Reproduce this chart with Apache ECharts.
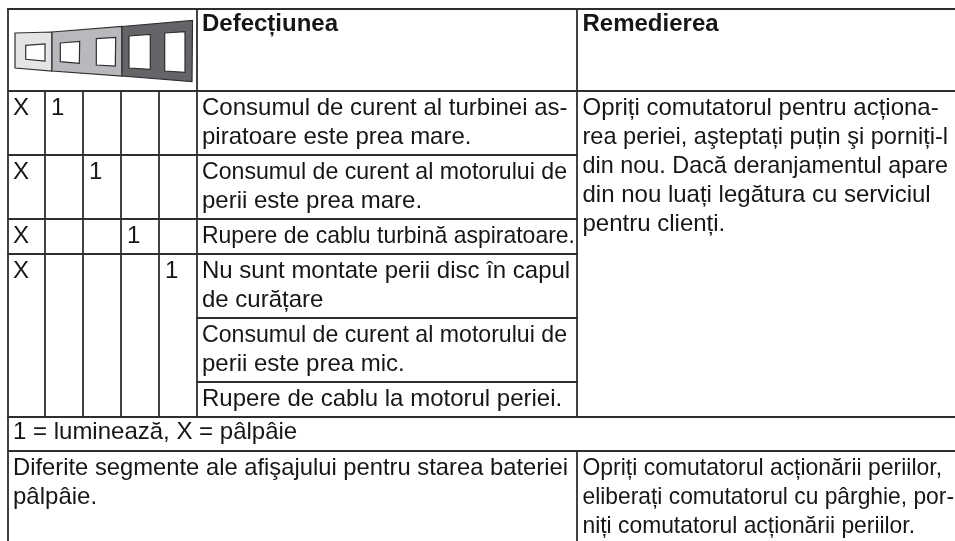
<!DOCTYPE html>
<html><head><meta charset="utf-8">
<style>html,body{margin:0;padding:0;background:#fff}#c{width:955px;height:541px}</style>
<script src="https://cdn.jsdelivr.net/npm/echarts@6/dist/echarts.min.js"></script>
</head><body><div id="c"></div>
<script>
// ---- content ----
const headers = ["Defecțiunea", "Remedierea"];
const flashMarks = ["X", "X", "X", "X"];
const litColumn = [1, 2, 3, 4];
const litMark = "1";
const faults = [
  ["Consumul de curent al turbinei as-", "piratoare este prea mare."],
  ["Consumul de curent al motorului de", "perii este prea mare."],
  ["Rupere de cablu turbină aspiratoare."],
  ["Nu sunt montate perii disc în capul", "de curățare"],
  ["Consumul de curent al motorului de", "perii este prea mic."],
  ["Rupere de cablu la motorul periei."]
];
const remedy = ["Opriți comutatorul pentru acționa-", "rea periei, aşteptați puțin şi porniți-l", "din nou. Dacă deranjamentul apare", "din nou luați legătura cu serviciul", "pentru clienți."];
const legendNote = "1 = luminează, X = pâlpâie";
const batteryFault = ["Diferite segmente ale afişajului pentru starea bateriei", "pâlpâie."];
const batteryRemedy = ["Opriți comutatorul acționării periilor,", "eliberați comutatorul cu pârghie, por-", "niți comutatorul acționării periilor."];

// ---- layout ----
const W = 955, H = 541;
const colX = [8, 45, 83, 121, 159, 197, 577, 955];
const rowY = [9, 91, 155, 219, 254, 318, 382, 417, 451, 541];
const FONT = '"Liberation Sans", Arial, sans-serif';
const SIZE = 24, PITCH = 29, ASCENT = 17;
const INK = '#161616', RULE = '#2e2e2e';
// right edge (px) of lines that the original sets tighter than the natural width
const fitRight = {
  "Consumul de curent al motorului de": 567,
  "Rupere de cablu turbină aspiratoare.": 575,
  "rea periei, aşteptați puțin şi porniți-l": 948,
  "din nou. Dacă deranjamentul apare": 948,
  "Diferite segmente ale afişajului pentru starea bateriei": 568,
  "Opriți comutatorul acționării periilor,": 942,
  "eliberați comutatorul cu pârghie, por-": 954,
  "niți comutatorul acționării periilor.": 915
};

const ruleData = [
  [colX[0], rowY[0], W, rowY[0]], [colX[0], rowY[1], W, rowY[1]],
  [colX[0], rowY[2], colX[5], rowY[2]], [colX[0], rowY[3], colX[5], rowY[3]],
  [colX[0], rowY[4], colX[5], rowY[4]], [colX[5], rowY[2], colX[6], rowY[2]],
  [colX[5], rowY[3], colX[6], rowY[3]], [colX[5], rowY[4], colX[6], rowY[4]],
  [colX[5], rowY[5], colX[6], rowY[5]], [colX[5], rowY[6], colX[6], rowY[6]],
  [colX[0], rowY[7], W, rowY[7]], [colX[0], rowY[8], W, rowY[8]],
  [colX[0], rowY[0], colX[0], H],
  [colX[1], rowY[1], colX[1], rowY[7]], [colX[2], rowY[1], colX[2], rowY[7]],
  [colX[3], rowY[1], colX[3], rowY[7]], [colX[4], rowY[1], colX[4], rowY[7]],
  [colX[5], rowY[0], colX[5], rowY[7]], [colX[6], rowY[0], colX[6], rowY[7]],
  [colX[6], rowY[8], colX[6], H]
];

const iconShapes = [
  {c:'#e3e4e5', p:[[15,33],[52,32],[52,71],[15,68]]},
  {c:'#b8b9bc', p:[[52,32],[122,26.5],[122,76],[52,71]]},
  {c:'#646568', p:[[122,26.5],[192.5,20.5],[192,81.5],[122,76]]},
  {c:'#ffffff', p:[[25.7,45.3],[45,44],[45,61],[25.7,59.3]]},
  {c:'#ffffff', p:[[60.3,43],[79.7,41.3],[79.3,63.3],[60.3,61.7]]},
  {c:'#ffffff', p:[[96.3,38.7],[115.7,37.3],[115.3,66],[96.3,65]]},
  {c:'#ffffff', p:[[129,36],[150.3,34.3],[150.3,69.3],[129,68]]},
  {c:'#ffffff', p:[[164.7,33],[185,31.7],[185,72.3],[164.7,71]]}
];

// text lines: [x, baseline y, string, bold]
const textData = [];
const put = (x, base, lines, bold) => lines.forEach((s, i) => textData.push([x, base + i * PITCH, s, bold ? 1 : 0]));
put(colX[5] + 5, rowY[0] + 20, [headers[0]], true);
put(colX[6] + 5.5, rowY[0] + 20, [headers[1]], true);
flashMarks.forEach((m, i) => put(colX[0] + 5, rowY[i + 1] + 22, [m]));
litColumn.forEach((c, i) => put(colX[c] + 6, rowY[i + 1] + 22, [litMark]));
faults.forEach((f, i) => put(colX[5] + 5, rowY[i + 1] + 22, f));
put(colX[6] + 5.5, rowY[1] + 22, remedy);
put(colX[0] + 5, rowY[7] + 20, [legendNote]);
put(colX[0] + 5, rowY[8] + 22, batteryFault);
put(colX[6] + 5.5, rowY[8] + 22, batteryRemedy);

const meter = document.createElement('canvas').getContext('2d');
const fontOf = bold => (bold ? 'bold ' : '') + SIZE + 'px ' + FONT;
const fitScale = r => {
  const right = fitRight[r[2]];
  if (!right) return 1;
  meter.font = fontOf(r[3]);
  return Math.min(1, (right - r[0]) / meter.measureText(r[2]).width);
};

const chart = echarts.init(document.getElementById('c'), null, {renderer: 'canvas'});
chart.setOption({
  animation: false,
  backgroundColor: '#ffffff',
  grid: {left: 0, right: 0, top: 0, bottom: 0},
  xAxis: {type: 'value', min: 0, max: W, show: false},
  yAxis: {type: 'value', min: 0, max: H, inverse: true, show: false},
  series: [
    {type: 'custom', coordinateSystem: 'cartesian2d', silent: true, clip: false, encode: {x: 0, y: 1},
     data: iconShapes.map((s, i) => [s.p[0][0], s.p[0][1], i]),
     renderItem: (p, api) => {
       const s = iconShapes[api.value(2)];
       return {type: 'polygon', shape: {points: s.p.map(q => api.coord(q))},
         style: {fill: s.c, stroke: '#2e2e2e', lineWidth: 1.2}};
     }},
    {type: 'custom', coordinateSystem: 'cartesian2d', silent: true, clip: false, encode: {x: [0, 2], y: [1, 3]},
     data: ruleData,
     renderItem: (p, api) => {
       const a = api.coord([api.value(0), api.value(1)]), b = api.coord([api.value(2), api.value(3)]);
       return {type: 'line', shape: {x1: a[0], y1: a[1], x2: b[0], y2: b[1]},
         style: {stroke: RULE, lineWidth: 1.8, lineCap: 'square'}};
     }},
    {type: 'custom', coordinateSystem: 'cartesian2d', silent: true, clip: false, encode: {x: 0, y: 1},
     dimensions: ['x', 'y', {name: 's', type: 'ordinal'}, 'b'],
     data: textData,
     renderItem: (p, api) => {
       const r = textData[p.dataIndex], a = api.coord([r[0], r[1] - ASCENT]);
       return {type: 'text', x: a[0], y: a[1], scaleX: fitScale(r),
         style: {text: r[2], fill: INK, align: 'left', verticalAlign: 'top', font: fontOf(r[3])}};
     }}
  ]
});
</script></body></html>
